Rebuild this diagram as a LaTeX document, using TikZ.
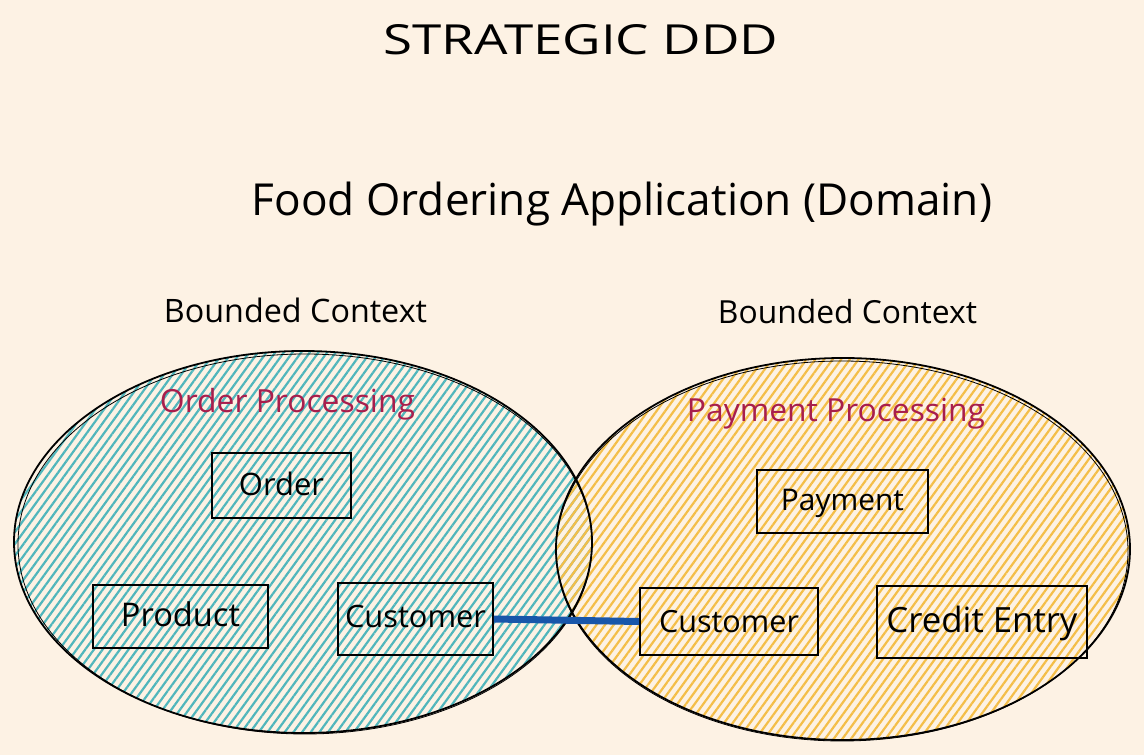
\documentclass[tikz,border=0pt]{standalone}
\usepackage{fontspec}
\setmainfont{Open Sans}
\usetikzlibrary{shapes.geometric,patterns.meta}
\definecolor{bg}{RGB}{253,242,228}
\definecolor{tealh}{RGB}{80,182,188}
\definecolor{yellowh}{RGB}{244,190,72}
\definecolor{crimson}{RGB}{168,30,76}
\definecolor{linkblue}{RGB}{24,86,170}
\newcommand{\fitw}[2]{\resizebox{#1}{!}{#2}}
\begin{document}
\begin{tikzpicture}[x=1pt,y=-1pt,
  ctxfill/.style={ellipse, inner sep=0pt, draw=none},
  ctxline/.style={draw=black, line width=1.8pt},
  sketchline/.style={draw=black, line width=0.8pt},
  entity/.style={rectangle, draw=black, line width=1.8pt, inner sep=0pt, text depth=0pt},
  lbl/.style={inner sep=0pt, anchor=base},
  link/.style={draw=linkblue, line width=7pt}
]
\fill[bg] (0,0) rectangle (1144,755);
\useasboundingbox (0,0) rectangle (1144,755);

% bounded contexts
\node[ctxfill, minimum width=578pt, minimum height=382pt,
  pattern={Lines[angle=54,distance=7pt,line width=2.2pt]}, pattern color=tealh]
  (orderctx) at (303,542) {};
\node[ctxfill, minimum width=574pt, minimum height=382pt,
  pattern={Lines[angle=54,distance=7pt,line width=2.2pt]}, pattern color=yellowh]
  (payctx) at (843,549) {};
\draw[ctxline] (orderctx.center) ellipse [x radius=289, y radius=191];
\draw[ctxline] (payctx.center) ellipse [x radius=287, y radius=191];
\draw[sketchline] ([shift={(2,2)}]orderctx.center) ellipse [x radius=287, y radius=190];
\draw[sketchline] ([shift={(-1,2)}]payctx.center) ellipse [x radius=286, y radius=190];

% titles
\node[lbl] (title) at (581,54) {\resizebox{395pt}{30pt}{STRATEGIC DDD}};
\node[lbl] (domain) at (622,215) {\fitw{740pt}{Food Ordering Application (Domain)}};
\node[lbl] (bcleft) at (295.5,322) {\fitw{263pt}{Bounded Context}};
\node[lbl] (bcright) at (847.5,323) {\fitw{259pt}{Bounded Context}};
\node[lbl, text=crimson] (opname) at (287.5,412) {\fitw{255pt}{Order Processing}};
\node[lbl, text=crimson] (ppname) at (836,421) {\fitw{298pt}{Payment Processing}};

% entities
\node[entity, minimum width=139pt, minimum height=65pt, text height=19pt]
  (order) at (281.5,485.5) {\fitw{85pt}{Order}};
\node[entity, minimum width=175pt, minimum height=63pt, text height=19pt]
  (product) at (180.5,616.5) {\fitw{119pt}{Product}};
\node[entity, minimum width=155pt, minimum height=72pt, text height=16pt]
  (custL) at (415.5,619) {\fitw{141pt}{Customer}};
\node[entity, minimum width=171pt, minimum height=63pt, text height=17pt]
  (payment) at (842.5,501.5) {\fitw{123pt}{Payment}};
\node[entity, minimum width=178pt, minimum height=67pt, text height=21pt]
  (custR) at (729,621.5) {\fitw{140pt}{Customer}};
\node[entity, minimum width=210pt, minimum height=72pt, text height=20pt]
  (credit) at (982,622) {\fitw{191pt}{Credit Entry}};

% relationship
\draw[link] (custL.east) -- (custR.west);
\end{tikzpicture}
\end{document}
